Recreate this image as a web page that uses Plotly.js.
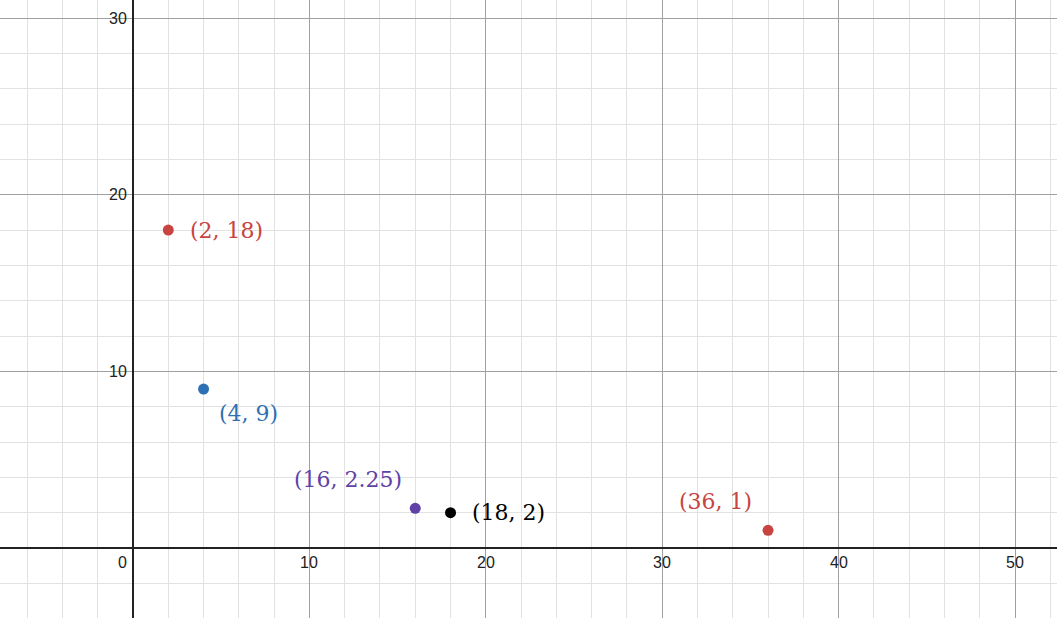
<!DOCTYPE html>
<html>
<head>
<meta charset="utf-8">
<script src="https://cdn.plot.ly/plotly-3.0.1.min.js"></script>
<style>
html,body{margin:0;padding:0;background:#fff;}
#chart{width:1057px;height:618px;}
</style>
</head>
<body>
<div id="chart"></div>
<script>
const pointX = [2, 4, 16, 18, 36];
const pointY = [18, 9, 2.25, 2, 1];
const pointLabels = ["(2, 18)", "(4, 9)", "(16, 2.25)", "(18, 2)", "(36, 1)"];
const pointColors = ["#c74440", "#2d70b3", "#6042a6", "#000000", "#c74440"];
const xTickVals = [10, 20, 30, 40, 50];
const yTickVals = [10, 20, 30];
const originLabel = "0";

// label placement styles (offsets in px relative to the point)
const labelStyle = [
  {xanchor: "left", xshift: 20, yshift: 0},
  {xanchor: "left", xshift: 13, yshift: -24},
  {xanchor: "right", xshift: -11, yshift: 29},
  {xanchor: "left", xshift: 19, yshift: 0},
  {xanchor: "right", xshift: -14, yshift: 29}
];

const annotations = [];
pointLabels.forEach((t, i) => {
  annotations.push({
    x: pointX[i], y: pointY[i], xref: "x", yref: "y",
    text: t, showarrow: false,
    xanchor: labelStyle[i].xanchor, yanchor: "middle",
    xshift: labelStyle[i].xshift, yshift: labelStyle[i].yshift,
    font: {family: "DejaVu Serif, serif", size: 22, color: pointColors[i]}
  });
});
const tickFont = {family: "Liberation Sans, Arial, sans-serif", size: 16, color: "#222"};
xTickVals.forEach(v => {
  annotations.push({x: v, y: 0, xref: "x", yref: "y", text: String(v), showarrow: false,
    xanchor: "center", yanchor: "top", yshift: -4, font: tickFont});
});
yTickVals.forEach(v => {
  annotations.push({x: 0, y: v, xref: "x", yref: "y", text: String(v), showarrow: false,
    xanchor: "right", yanchor: "middle", xshift: -4, font: tickFont});
});
annotations.push({x: 0, y: 0, xref: "x", yref: "y", text: originLabel, showarrow: false,
  xanchor: "right", yanchor: "top", xshift: -4, yshift: -4, font: tickFont});

const trace = {
  x: pointX, y: pointY, type: "scatter", mode: "markers",
  marker: {size: 11, color: pointColors},
  hoverinfo: "skip"
};

const layout = {
  width: 1057, height: 618,
  margin: {l: 0, r: 0, t: 0, b: 0},
  paper_bgcolor: "#fff", plot_bgcolor: "#fff",
  showlegend: false,
  xaxis: {
    range: [-7.54, 52.38], dtick: 10, tick0: 0,
    showticklabels: false, ticks: "",
    showgrid: true, gridcolor: "#a0a0a0", gridwidth: 1,
    zeroline: true, zerolinecolor: "#222", zerolinewidth: 2,
    minor: {dtick: 2, tick0: 0, showgrid: true, gridcolor: "#e2e2e2", gridwidth: 1},
    showline: false, fixedrange: true
  },
  yaxis: {
    range: [-3.96, 31.02], dtick: 10, tick0: 0,
    showticklabels: false, ticks: "",
    showgrid: true, gridcolor: "#a0a0a0", gridwidth: 1,
    zeroline: true, zerolinecolor: "#222", zerolinewidth: 2,
    minor: {dtick: 2, tick0: 0, showgrid: true, gridcolor: "#e2e2e2", gridwidth: 1},
    showline: false, fixedrange: true
  },
  annotations: annotations
};

Plotly.newPlot("chart", [trace], layout, {displayModeBar: false, staticPlot: true});
</script>
</body>
</html>
